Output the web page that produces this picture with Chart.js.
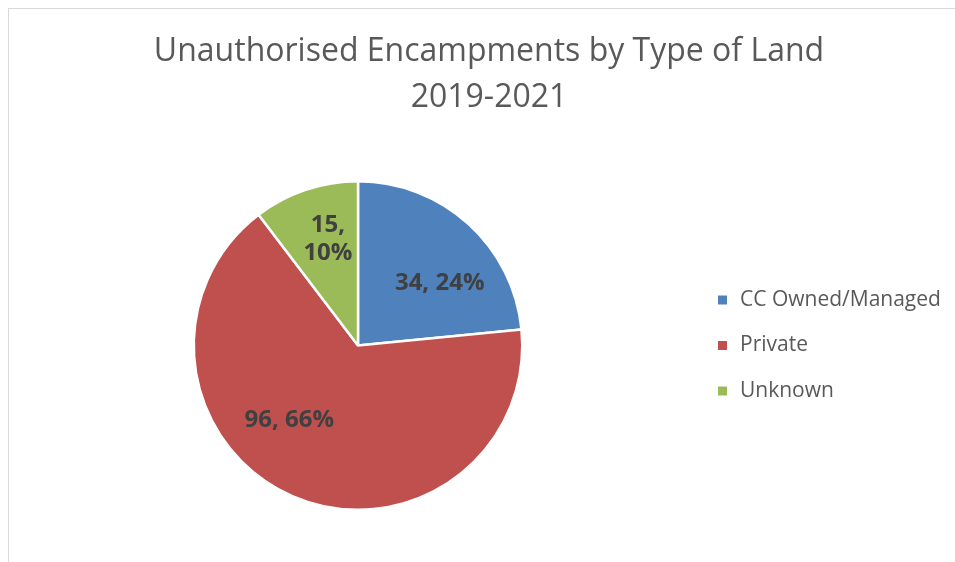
<!DOCTYPE html>
<html>
<head>
<meta charset="utf-8">
<script src="https://cdn.jsdelivr.net/npm/chart.js@4"></script>
<style>
    body { margin: 0; background: #ffffff; overflow: hidden; }
    #wrap { position: relative; width: 955px; height: 562px; }
    #frame { position: absolute; left: 8px; top: 8px; width: 980px; height: 600px; border: 1.5px solid #d9d9d9; box-sizing: border-box; }
    canvas { position: absolute; left: 0; top: 0; }
</style>
</head>
<body>
<div id="wrap">
    <div id="frame"></div>
    <canvas id="pieChart" width="955" height="562"></canvas>
</div>
<script>
// Chart data
const categories = ['CC Owned/Managed', 'Private', 'Unknown'];
const counts = [34, 96, 15];
const percentLabels = ['24%', '66%', '10%'];
const sliceColors = ['#4f81bd', '#c0504d', '#9bbb59'];
const titleLines = ['Unauthorised Encampments by Type of Land', '2019-2021'];

// Title is centred over the whole frame, not just the pie area, so it is drawn here
const frameTitle = {
    id: 'frameTitle',
    afterDraw(chart) {
        const ctx = chart.ctx;
        ctx.save();
        ctx.font = '32px "Open Sans"';
        ctx.fillStyle = '#595959';
        ctx.textAlign = 'center';
        ctx.textBaseline = 'middle';
        titleLines.forEach((line, i) => {
            ctx.fillText(line, 489, 52 + i * 46);
        });
        ctx.restore();
    }
};

// Draws "value, percent" on each slice. The narrow green slice gets the text on two lines
// small nudges move the text to where the original chart put it
const labelNudge = [[10, 17], [-26, -23], [4, -5]];
const sliceLabels = {
    id: 'sliceLabels',
    afterDatasetsDraw(chart) {
        const ctx = chart.ctx;
        const meta = chart.getDatasetMeta(0);
        ctx.save();
        ctx.font = 'bold 24px "Open Sans"';
        ctx.fillStyle = '#404040';
        ctx.textAlign = 'center';
        ctx.textBaseline = 'middle';
        meta.data.forEach((arc, i) => {
            const mid = (arc.startAngle + arc.endAngle) / 2;
            const r = arc.outerRadius * 0.65;
            const x = arc.x + r * Math.cos(mid) + labelNudge[i][0];
            const y = arc.y + r * Math.sin(mid) + labelNudge[i][1];
            if (arc.endAngle - arc.startAngle < 0.8) {
                ctx.fillText(counts[i] + ',', x, y - 14);
                ctx.fillText(percentLabels[i], x, y + 14);
            } else {
                ctx.fillText(counts[i] + ', ' + percentLabels[i], x, y);
            }
        });
        ctx.restore();
    }
};

// Legend to the right of the pie, square marker + label
const sideLegend = {
    id: 'sideLegend',
    afterDraw(chart) {
        const ctx = chart.ctx;
        const left = 718;
        const rowGap = 45.5;
        const firstRow = 300;
        ctx.save();
        ctx.font = '21px "Open Sans"';
        ctx.textBaseline = 'middle';
        categories.forEach((name, i) => {
            const y = firstRow + i * rowGap;
            ctx.fillStyle = sliceColors[i];
            ctx.fillRect(left, y - 4.5, 9, 9);
            ctx.fillStyle = '#595959';
            ctx.fillText(name, left + 22, y);
        });
        ctx.restore();
    }
};

new Chart(document.getElementById('pieChart'), {
    type: 'pie',
    data: {
        labels: categories,
        datasets: [{
            data: counts,
            backgroundColor: sliceColors,
            borderColor: '#ffffff',
            borderWidth: 2.5,
            hoverOffset: 0
        }]
    },
    options: {
        responsive: false,
        animation: false,
        events: [],
        layout: {
            padding: { left: 23, right: 262, top: 180, bottom: 51 }
        },
        plugins: {
            legend: { display: false },
            tooltip: { enabled: false },
            title: { display: false }
        }
    },
    plugins: [sliceLabels, sideLegend, frameTitle]
});
</script>
</body>
</html>
